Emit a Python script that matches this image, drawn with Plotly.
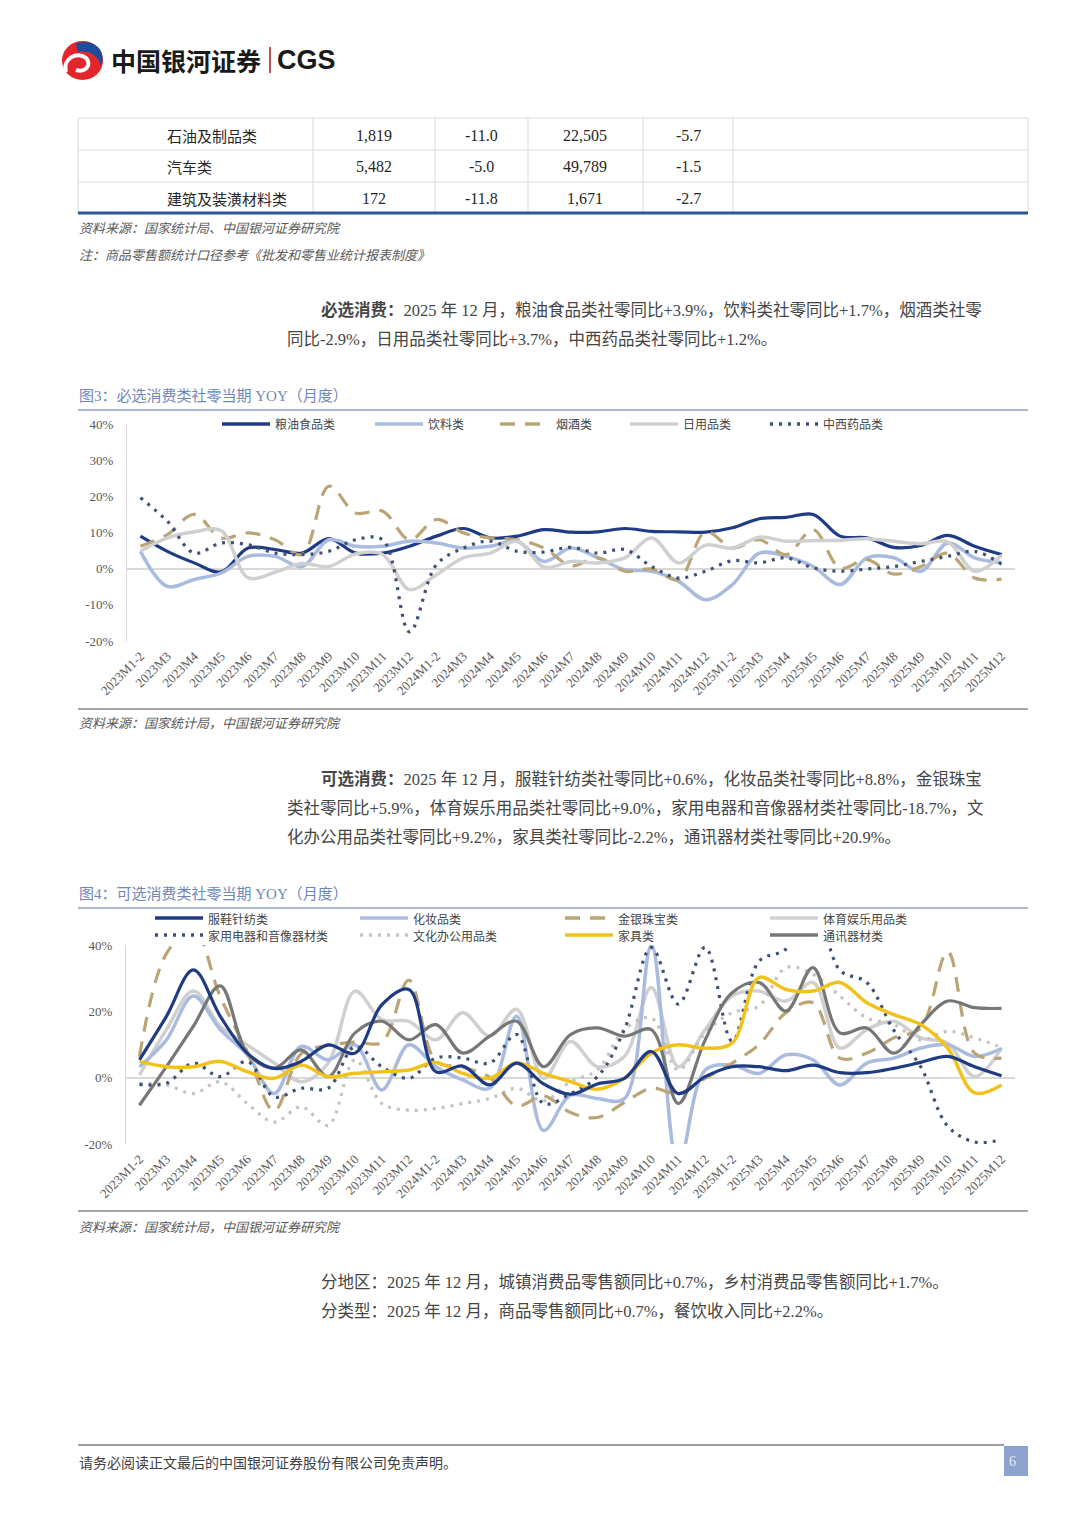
import plotly.graph_objects as go

# page is drawn inside the browser's default 8px body margin
OFF = 8
W, H = 1080 - 2 * OFF, 1527 - 2 * OFF
def X(p): return (p - OFF) / W
def Y(p): return 1 - (p - OFF) / H

# ---------------- data ----------------
months = ["2023M1-2", "2023M3", "2023M4", "2023M5", "2023M6", "2023M7", "2023M8", "2023M9",
          "2023M10", "2023M11", "2023M12", "2024M1-2", "2024M3", "2024M4", "2024M5", "2024M6",
          "2024M7", "2024M8", "2024M9", "2024M10", "2024M11", "2024M12", "2025M1-2", "2025M3",
          "2025M4", "2025M5", "2025M6", "2025M7", "2025M8", "2025M9", "2025M10", "2025M11", "2025M12"]

# Fig 3: essential consumption YoY (%)
grain = [9.0, 4.8, 1.6, -0.9, 5.7, 5.3, 4.3, 8.3, 4.3, 4.3, 6.2, 9.0, 11.1, 8.5, 9.0, 10.8, 10.1,
         10.2, 11.1, 10.3, 10.2, 10.1, 11.3, 13.8, 14.2, 15.0, 9.0, 8.5, 5.9, 6.4, 9.2, 6.2, 3.9]
beverage = [4.8, -4.9, -3.0, -1.2, 3.4, 3.4, 0.6, 8.0, 6.2, 6.2, 7.6, 7.1, 5.7, 6.2, 7.6, 2.0, 5.7,
            3.0, -0.3, -0.7, -3.5, -8.6, -4.4, 4.3, 3.4, 0.6, -4.4, 3.0, 3.0, -0.7, 7.1, 3.0, 1.7]
tobacco = [6.2, 9.4, 15.0, 8.5, 9.9, 8.0, 3.9, 22.8, 15.4, 15.9, 8.0, 13.6, 9.9, 8.5, 8.0, 5.7, 0.8,
           3.0, -0.7, -0.1, -3.0, 10.2, 5.7, 8.0, 3.9, 10.8, 0.2, 2.5, -1.5, 0.6, 4.3, -2.6, -2.9]
daily = [4.8, 8.5, 10.2, 10.5, -2.5, -1.0, 1.4, 0.6, 4.1, 3.9, -5.8, -1.7, 3.0, 4.3, 7.6, 0.4, 2.0,
         1.6, 3.0, 8.5, 1.6, 6.5, 5.7, 8.7, 7.6, 7.8, 7.8, 8.3, 7.6, 6.9, 7.4, -0.7, 3.7]
medicine = [19.6, 13.1, 4.3, 7.1, 6.6, 4.3, 3.9, 4.8, 8.0, 8.0, -17.5, 1.1, 5.7, 7.6, 4.8, 4.6, 5.9,
            4.3, 5.3, 0.6, -2.6, -0.7, 2.2, 1.6, 3.0, 0.2, -0.7, -0.1, 0.6, 2.0, 3.4, 4.8, 1.2]

# Fig 4: optional consumption YoY (%)
clothing = [5.4, 18.5, 32.5, 18.5, 7.4, 2.8, 4.9, 9.9, 7.4, 22.0, 26.6, 1.8, 3.5, -2.2, 4.4, -1.9, -5.0,
            -1.9, -0.2, 7.9, -4.8, 0.3, 3.3, 3.3, 2.1, 3.8, 1.5, 1.5, 2.8, 4.6, 6.4, 3.3, 0.6]
cosmetics = [3.3, 11.4, 24.6, 14.5, 6.9, -4.8, 9.4, 5.4, 9.9, -3.7, 9.9, 3.3, -0.7, -3.2, 18.5, -15.9,
             -5.3, -6.3, -6.3, 39.8, -26.4, 2.3, 3.8, 1.3, 6.9, 5.4, -2.2, 4.4, 5.9, 8.9, 9.9, 6.4, 8.8]
jewelry = [6.4, 37.4, 44.7, 24.4, 7.8, -10.0, 7.2, 9.7, 10.7, 10.7, 29.4, 5.0, 3.2, 0.1, -8.5, -5.5,
           -10.5, -12.0, -7.5, -3.2, -4.8, -0.2, 4.4, 10.0, 19.6, 22.6, 5.9, 7.4, 12.0, 15.0, 38.0, 7.4, 5.9]
sports = [0.8, 14.5, 26.1, 15.5, 9.9, 4.4, -1.2, 4.4, 26.1, 17.5, 17.0, 11.4, 19.6, 12.5, 20.6, -0.2,
          10.9, 3.3, 6.4, 27.2, 3.3, 14.5, 24.6, 26.1, 23.1, 28.7, 8.9, 14.5, 17.0, 12.0, 10.4, 0.3, 9.0]
appliance = [-2.0, -1.7, 4.4, 0.3, 4.9, -5.8, -3.2, -3.2, 9.4, 3.3, -0.2, 5.9, 5.9, 4.4, 13.0, -7.8,
             -4.8, 0.3, 14.5, 39.2, 22.2, 39.3, 11.0, 35.1, 38.8, 53.0, 32.4, 28.7, 14.3, 3.3, -14.6, -19.4, -18.7]
office = [-1.7, -2.2, -4.8, -1.2, -7.8, -13.4, -8.8, -14.4, 5.4, -7.8, -9.8, -9.3, -7.8, -6.3, -3.2, -7.0,
          -1.2, 2.3, 14.5, 18.0, 2.3, 13.5, 19.6, 21.6, 33.2, 31.2, 24.6, 18.0, 16.0, 11.4, 14.0, 12.0, 9.2]
furniture = [4.9, 3.3, 3.3, 4.9, 1.8, -0.2, 3.8, 0.3, 1.3, 1.8, 2.3, 4.6, 1.3, -0.2, 4.4, 1.3, -1.2,
             -3.5, -0.2, 7.4, 9.9, 8.9, 10.4, 30.2, 26.6, 26.1, 28.7, 22.6, 19.0, 16.0, 8.9, -4.6, -2.2]
telecom = [-8.3, 3.3, 15.5, 27.7, 7.4, 2.8, 8.4, 0.3, 13.5, 17.0, 11.4, 16.0, 7.4, 12.5, 17.0, 3.3, 13.0,
           15.0, 12.5, 14.5, -7.8, 11.4, 25.6, 28.7, 20.1, 33.2, 13.5, 15.0, 7.4, 16.0, 23.1, 21.1, 20.9]

# table
table_names = ["石油及制品类", "汽车类", "建筑及装潢材料类"]
table_month_value = ["1,819", "5,482", "172"]
table_month_yoy = ["-11.0", "-5.0", "-11.8"]
table_ytd_value = ["22,505", "49,789", "1,671"]
table_ytd_yoy = ["-5.7", "-1.5", "-2.7"]

y_ticks3 = [-20, -10, 0, 10, 20, 30, 40]
y_text3 = ["-20%", "-10%", "0%", "10%", "20%", "30%", "40%"]
y_ticks4 = [-20, 0, 20, 40]
y_text4 = ["-20%", "0%", "20%", "40%"]

# ---------------- styles ----------------
NAVY = "#1F3B84"
LBLUE = "#A9BBDE"
TAN = "#BBA476"
LGRAY = "#D0D0D0"
DOTNAVY = "#3E5177"
DOTGRAY = "#C3C3C3"
YELLOW = "#F2C21B"
DGRAY = "#777777"
TXT = "#454545"
SERIF = "Liberation Serif, Noto Sans CJK SC"
CJK = "Noto Sans CJK SC"
DASH_LONG = "15px,10px"
DOT = "3px,6px"

fig = go.Figure()

series3 = [
    ("粮油食品类", grain, NAVY, 3.2, "solid"),
    ("饮料类", beverage, LBLUE, 3.5, "solid"),
    ("烟酒类", tobacco, TAN, 3.2, DASH_LONG),
    ("日用品类", daily, LGRAY, 3.5, "solid"),
    ("中西药品类", medicine, DOTNAVY, 3.2, DOT),
]
for name, vals, col, wd, dash in series3:
    fig.add_trace(go.Scatter(x=months, y=vals, name=name, mode="lines",
                             line=dict(color=col, width=wd, dash=dash, shape="spline", smoothing=1.0),
                             xaxis="x", yaxis="y", showlegend=False))

series4 = [
    ("体育娱乐用品类", sports, LGRAY, 3.5, "solid"),
    ("文化办公用品类", office, DOTGRAY, 3.2, DOT),
    ("化妆品类", cosmetics, LBLUE, 3.5, "solid"),
    ("金银珠宝类", jewelry, TAN, 3.2, DASH_LONG),
    ("家用电器和音像器材类", appliance, DOTNAVY, 3.2, DOT),
    ("通讯器材类", telecom, DGRAY, 3.2, "solid"),
    ("家具类", furniture, YELLOW, 3.5, "solid"),
    ("服鞋针纺类", clothing, NAVY, 3.2, "solid"),
]
for name, vals, col, wd, dash in series4:
    fig.add_trace(go.Scatter(x=months, y=vals, name=name, mode="lines",
                             line=dict(color=col, width=wd, dash=dash, shape="spline", smoothing=1.0),
                             xaxis="x2", yaxis="y2", showlegend=False))

xcommon = dict(type="category", tickmode="array", tickvals=months, ticktext=months, tickangle=-45,
               tickfont=dict(family=SERIF, size=13, color="#595959"), showline=False, showgrid=False,
               zeroline=False, ticks="", range=[-0.5, 32.5], ticklabelstandoff=4, automargin=False)
ycommon = dict(showgrid=False, zeroline=True, zerolinecolor="#D9D9D9", zerolinewidth=1.5,
               showline=True, linecolor="#D9D9D9", linewidth=1, ticks="", tickmode="array",
               tickfont=dict(family=SERIF, size=13, color="#595959"), ticklabelstandoff=10,
               range=[-20, 40], automargin=False)

fig.update_layout(
    width=W, height=H, margin=dict(l=0, r=0, t=0, b=0, pad=0, autoexpand=False),
    paper_bgcolor="white", plot_bgcolor="white", showlegend=False,
    xaxis=dict(domain=[X(127), X(1015)], anchor="y", **xcommon),
    yaxis=dict(domain=[Y(641), Y(424)], anchor="x", tickvals=y_ticks3, ticktext=y_text3, **ycommon),
    xaxis2=dict(domain=[X(126), X(1015)], anchor="y2", **xcommon),
    yaxis2=dict(domain=[Y(1144), Y(945)], anchor="x2", tickvals=y_ticks4, ticktext=y_text4, **ycommon),
)

shapes = []
annos = []

def hline(x0, x1, y, color, width, dash="solid"):
    shapes.append(dict(type="line", xref="paper", yref="paper", x0=X(x0), x1=X(x1), y0=Y(y), y1=Y(y),
                       line=dict(color=color, width=width, dash=dash)))

def vline(x, y0, y1, color, width):
    shapes.append(dict(type="line", xref="paper", yref="paper", x0=X(x), x1=X(x), y0=Y(y0), y1=Y(y1),
                       line=dict(color=color, width=width)))

def text(x, y, s, size, color=TXT, anchor="left", family=CJK, bold=False, italic=False):
    annos.append(dict(xref="paper", yref="paper", x=X(x), y=Y(y), text=s, showarrow=False,
                      xanchor=anchor, yanchor="middle", borderpad=0,
                      font=dict(family=family, size=size, color=color,
                                weight="bold" if bold else "normal",
                                style="italic" if italic else "normal")))

# ---------------- header / logo ----------------
shapes.append(dict(type="circle", xref="paper", yref="paper", x0=X(62), x1=X(103), y0=Y(80), y1=Y(41),
                   fillcolor="#E3262C", line=dict(width=0)))
path_blue = "M {} {} C {} {}, {} {}, {} {} C {} {}, {} {}, {} {} Z".format(
    X(76), Y(44), X(92), Y(37), X(108), Y(50), X(101), Y(66),
    X(98), Y(56), X(90), Y(50), X(78), Y(52))
shapes.append(dict(type="path", xref="paper", yref="paper", path=path_blue, fillcolor="#1E4C9C",
                   line=dict(width=0)))
path_white = "M {} {} C {} {}, {} {}, {} {} C {} {}, {} {}, {} {}".format(
    X(66), Y(72), X(62), Y(58), X(78), Y(51), X(86), Y(58),
    X(92), Y(64), X(86), Y(73), X(76), Y(70))
shapes.append(dict(type="path", xref="paper", yref="paper", path=path_white,
                   line=dict(color="white", width=4)))
text(110, 60, "中国银河证券", 25, "#1A1A1A", bold=True)
vline(270, 47, 73, "#C0504D", 2)
text(276, 60, "CGS", 27, "#1A1A1A", family="Liberation Sans", bold=True)

# ---------------- table ----------------
TBL = "#D9D9D9"
for yy in [118, 150, 182]:
    hline(78, 1028, yy, TBL, 1)
for xx in [78, 313, 435, 528, 643, 733, 1028]:
    vline(xx, 118, 213, TBL, 1)
hline(78, 1028, 213, "#2F5597", 3)
row_y = [135, 167, 198]
for i in range(len(table_names)):
    text(166, row_y[i], table_names[i], 15, "#262626")
    text(374, row_y[i], table_month_value[i], 16, "#262626", anchor="center", family=SERIF)
    text(481, row_y[i], table_month_yoy[i], 16, "#262626", anchor="center", family=SERIF)
    text(585, row_y[i], table_ytd_value[i], 16, "#262626", anchor="center", family=SERIF)
    text(688, row_y[i], table_ytd_yoy[i], 16, "#262626", anchor="center", family=SERIF)
text(78, 228, "资料来源：国家统计局、中国银河证券研究院", 13, "#595959", italic=True)
text(78, 254, "注：商品零售额统计口径参考《批发和零售业统计报表制度》", 13, "#595959", italic=True)

# ---------------- paragraph 1 ----------------
PS = 16.5
text(320, 310, "<b>必选消费：</b>2025 年 12 月，粮油食品类社零同比+3.9%，饮料类社零同比+1.7%，烟酒类社零", PS, TXT, family=SERIF)
text(286, 339, "同比-2.9%，日用品类社零同比+3.7%，中西药品类社零同比+1.2%。", PS, TXT, family=SERIF)

# ---------------- fig 3 ----------------
TITLE = "#6F87B8"
text(78, 396, "图3：必选消费类社零当期 YOY（月度）", 15, TITLE, family=SERIF)
hline(78, 1028, 410, "#8FA0BE", 1.5)
leg3 = [(222, "粮油食品类", NAVY, "solid"), (375, "饮料类", LBLUE, "solid"), (500, "烟酒类", TAN, DASH_LONG),
        (630, "日用品类", LGRAY, "solid"), (770, "中西药品类", DOTNAVY, DOT)]
for x0, name, col, dash in leg3:
    hline(x0, x0 + 48, 424, col, 3.5, dash)
    text(x0 + 52 if dash != DASH_LONG else x0 + 55, 424, name, 12, TXT)
hline(78, 1028, 709, "#A6A6A6", 2)
text(78, 722, "资料来源：国家统计局，中国银河证券研究院", 13, "#595959", italic=True)

# ---------------- paragraph 2 ----------------
text(320, 779, "<b>可选消费：</b>2025 年 12 月，服鞋针纺类社零同比+0.6%，化妆品类社零同比+8.8%，金银珠宝", PS, TXT, family=SERIF)
text(286, 808, "类社零同比+5.9%，体育娱乐用品类社零同比+9.0%，家用电器和音像器材类社零同比-18.7%，文", PS, TXT, family=SERIF)
text(286, 837, "化办公用品类社零同比+9.2%，家具类社零同比-2.2%，通讯器材类社零同比+20.9%。", PS, TXT, family=SERIF)

# ---------------- fig 4 ----------------
text(78, 894, "图4：可选消费类社零当期 YOY（月度）", 15, TITLE, family=SERIF)
hline(78, 1028, 908, "#8FA0BE", 1.5)
leg4 = [(155, 918, "服鞋针纺类", NAVY, "solid"), (360, 918, "化妆品类", LBLUE, "solid"),
        (565, 918, "金银珠宝类", TAN, DASH_LONG), (770, 918, "体育娱乐用品类", LGRAY, "solid"),
        (155, 935, "家用电器和音像器材类", DOTNAVY, DOT), (360, 935, "文化办公用品类", DOTGRAY, DOT),
        (565, 935, "家具类", YELLOW, "solid"), (770, 935, "通讯器材类", DGRAY, "solid")]
for x0, y0, name, col, dash in leg4:
    hline(x0, x0 + 48, y0, col, 3.5, dash)
    text(x0 + 52, y0, name, 12, TXT)
hline(78, 1028, 1211, "#A6A6A6", 2)
text(78, 1226, "资料来源：国家统计局，中国银河证券研究院", 13, "#595959", italic=True)

# ---------------- paragraph 3 ----------------
text(320, 1282, "分地区：2025 年 12 月，城镇消费品零售额同比+0.7%，乡村消费品零售额同比+1.7%。", PS, TXT, family=SERIF)
text(320, 1311, "分类型：2025 年 12 月，商品零售额同比+0.7%，餐饮收入同比+2.2%。", PS, TXT, family=SERIF)

# ---------------- footer ----------------
hline(78, 1004, 1445, "#7F7F7F", 1.5)
text(78, 1462, "请务必阅读正文最后的中国银河证券股份有限公司免责声明。", 14, "#404040")
shapes.append(dict(type="rect", xref="paper", yref="paper", x0=X(1004), x1=X(1028), y0=Y(1476), y1=Y(1446),
                   fillcolor="#8DA3CE", line=dict(width=0)))
text(1008, 1461, "6", 14, "#EDEDED", family=SERIF)

fig.update_layout(shapes=shapes, annotations=annos)
fig.write_html("out.html")
